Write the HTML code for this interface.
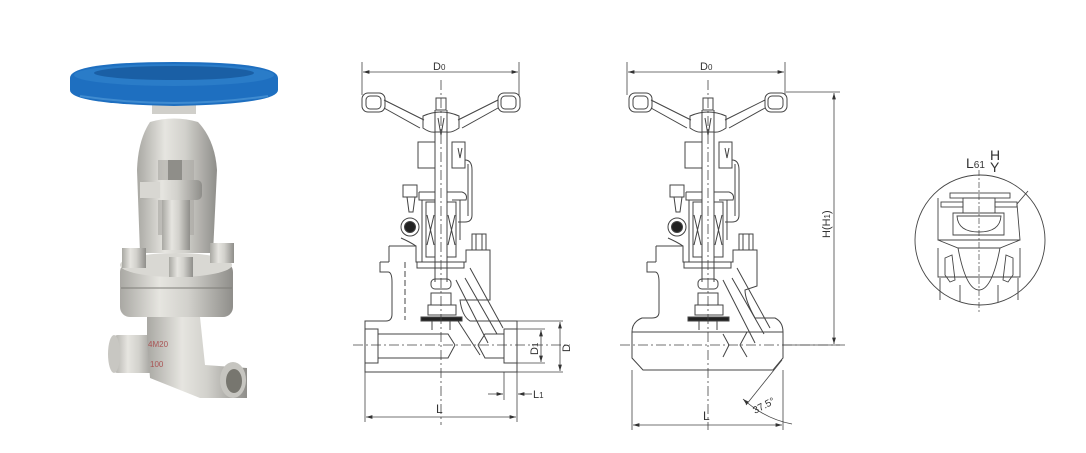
<!DOCTYPE html>
<html><head><meta charset="utf-8"><style>
html,body{margin:0;padding:0;background:#fff;}
svg{display:block;}
text{font-family:"Liberation Sans",sans-serif;fill:#333;}
</style></head><body>
<svg width="1086" height="453" viewBox="0 0 1086 453" xmlns="http://www.w3.org/2000/svg">
<defs>
<linearGradient id="steel" x1="0" x2="1" y1="0" y2="0">
<stop offset="0" stop-color="#a9a8a3"/><stop offset="0.35" stop-color="#e6e5e0"/><stop offset="0.6" stop-color="#d2d1cc"/><stop offset="1" stop-color="#8f8e8a"/>
</linearGradient>
<linearGradient id="steelv" x1="0" x2="0" y1="0" y2="1">
<stop offset="0" stop-color="#c9c8c3"/><stop offset="0.5" stop-color="#e8e7e2"/><stop offset="1" stop-color="#a8a7a2"/>
</linearGradient>
<marker id="ar" viewBox="0 0 10 6" refX="10" refY="3" markerWidth="8" markerHeight="5" orient="auto-start-reverse"><path d="M0,0 L10,3 L0,6 z" fill="#333"/></marker>
<g id="upper" fill="none" stroke="#444" stroke-width="1">
 <rect x="362" y="93" width="23" height="19" rx="6"/>
 <rect x="366" y="96" width="15" height="13" rx="4"/>
 <rect x="498" y="93" width="22" height="19" rx="6"/>
 <rect x="501" y="96" width="15" height="13" rx="4"/>
 <path d="M384,100 L424,120 M384,108 L420,128 M498,100 L458,120 M498,108 L462,128"/>
 <path d="M423,116 Q441,108 459,116 L459,128 Q452,133 447,132 L435,132 Q430,133 423,128 Z"/>
 <rect x="436" y="98" width="10" height="12"/>
 <path d="M435,110 L435,282 M447,110 L447,282"/>
 <path d="M438,118 L441,135 L444,118"/>
 <rect x="418" y="142" width="17" height="26"/>
 <rect x="452" y="142" width="13" height="26"/>
 <path d="M458,148 L460,158 L462,148"/>
 <path d="M465,160 Q472,160 472,170 L472,215 Q472,222 465,222 L458,222"/>
 <path d="M468,164 L468,216"/>
 <path d="M419,192 L435,192 M447,192 L462,192 Q468,194 466,200 L452,200 M419,192 L419,200 L435,200"/>
 <rect x="426" y="202" width="9" height="55"/>
 <rect x="447" y="202" width="9" height="55"/>
 <path d="M427,215 L434,245 M434,215 L427,245 M448,215 L455,245 M455,215 L448,245"/>
 <path d="M422,200 L422,262 M460,200 L460,240"/>
 <rect x="403" y="185" width="14" height="12"/>
 <path d="M407,197 L409,212 L413,212 L415,197"/>
 <circle cx="410" cy="227" r="9"/>
 <circle cx="410" cy="227" r="5.5" fill="#222"/>
 <path d="M401,238 Q410,242 416,246"/>
 <rect x="472" y="234" width="14" height="16"/>
 <path d="M476,234 L476,250 M482,234 L482,250"/>
 <path d="M389,246 L416,246 L416,262 L466,262 L466,250 L490,250 L490,270 M389,246 L389,262"/>
 <path d="M417,262 L417,268 L464,268 L464,262"/>
 <rect x="431" y="279" width="20" height="10" rx="4"/>
 <rect x="431" y="293" width="20" height="12"/>
 <rect x="428" y="305" width="28" height="10"/>
 <rect x="421" y="317" width="41" height="4" fill="#222"/>
</g>
</defs>

<!-- PHOTO -->
<g>
 <rect x="112" y="335" width="45" height="38" rx="6" fill="url(#steel)"/>
 <ellipse cx="114" cy="354" rx="6" ry="19" fill="#c8c7c2"/>
 <path d="M147,317 L200,317 L205,365 L247,368 L247,398 L200,398 L150,378 L147,340 Z" fill="url(#steel)"/>
 <ellipse cx="233" cy="380" rx="13" ry="18" fill="#c6c5c0"/>
 <ellipse cx="234" cy="381" rx="8" ry="12" fill="#77766f"/>
 <text x="148" y="347" font-size="8" style="fill:#a55">4M20</text>
 <text x="150" y="367" font-size="8" style="fill:#a55">100</text>
 <rect x="120" y="262" width="113" height="55" rx="10" fill="url(#steel)"/>
 <line x1="121" y1="288" x2="232" y2="288" stroke="#7e7d78"/>
 <ellipse cx="176" cy="265" rx="56" ry="12" fill="#d9d8d3"/>
 <path d="M150,122 Q174,115 198,122 Q215,140 217,170 L213,253 L140,253 L137,170 Q138,140 150,122 Z" fill="url(#steel)"/>
 <rect x="158" y="160" width="36" height="75" fill="#a8a7a2" opacity="0.6"/>
 <rect x="168" y="160" width="14" height="28" fill="#8f8e89"/>
 <rect x="140" y="180" width="62" height="20" rx="5" fill="url(#steel)"/>
 <rect x="140" y="182" width="20" height="16" fill="#d8d7d2"/>
 <rect x="162" y="200" width="28" height="50" fill="url(#steel)"/>
 <rect x="122" y="248" width="24" height="20" fill="url(#steel)"/>
 <rect x="169" y="257" width="24" height="20" fill="url(#steel)"/>
 <rect x="210" y="243" width="24" height="20" fill="url(#steel)"/>
 <rect x="152" y="104" width="44" height="10" fill="#d0cfca"/>
 <path d="M70,78 Q70,62 174,62 Q278,62 278,78 L278,90 Q278,104 174,106 Q70,104 70,90 Z" fill="#1e6fc0"/>
 <ellipse cx="174" cy="75" rx="100" ry="11" fill="#2a7cc8"/>
 <ellipse cx="174" cy="73" rx="80" ry="7" fill="#1a5fa5"/>
 <path d="M80,96 Q174,110 268,96" stroke="#3f8bd0" stroke-width="2" fill="none"/>
</g>

<!-- DRAWING 1 -->
<use href="#upper"/>
<g fill="none" stroke="#444" stroke-width="1">
 <path d="M380,262 L380,272 L388,272 Q392,272 392,282 L392,314 Q392,321 386,321 L365,321 L365,372 L517,372 L517,321 L470,321 Q462,316 460,300 L490,300 L490,270"/>
 <path d="M380,262 L389,262"/>
 <rect x="365" y="329" width="13" height="34"/>
 <rect x="504" y="329" width="13" height="34"/>
 <path d="M378,334 L448,334 L455,345 L448,358 L378,358"/>
 <path d="M504,334 L485,334 L478,345 L485,358 L504,358"/>
 <path d="M456,280 L488,343 M465,278 L497,334 M470,268 L503,328"/>
 <path d="M458,321 L480,355"/>
 <path d="M432,321 L432,330 M450,321 L450,330"/>
 <path d="M405,262 L405,320" stroke-dasharray="6,3"/>
</g>
<g stroke="#444" stroke-width="0.8" fill="none">
 <path d="M441,80 L441,425" stroke-dasharray="10,3,2,3"/>
 <path d="M353,345 L570,345" stroke-dasharray="10,3,2,3"/>
 <path d="M362,62 L362,95 M519,62 L519,95"/>
 <path d="M363,72 L518,72" marker-start="url(#ar)" marker-end="url(#ar)"/>
 <path d="M517,321 L563,321 M517,372 L563,372 M504,329 L545,329 M504,363 L545,363"/>
 <path d="M541,330 L541,362" marker-start="url(#ar)" marker-end="url(#ar)"/>
 <path d="M560,322 L560,371" marker-start="url(#ar)" marker-end="url(#ar)"/>
 <path d="M365,372 L365,422 M517,372 L517,422 M504,372 L504,400"/>
 <path d="M488,394 L503,394" marker-end="url(#ar)"/>
 <path d="M532,394 L518,394" marker-end="url(#ar)"/>
 <path d="M366,417 L516,417" marker-start="url(#ar)" marker-end="url(#ar)"/>
</g>
<text x="433" y="70" font-size="11">D<tspan font-size="8">0</tspan></text>
<text x="436" y="413" font-size="12">L</text>
<text x="533" y="398" font-size="11">L<tspan font-size="8">1</tspan></text>
<text transform="translate(538,355) rotate(-90)" font-size="11">D<tspan font-size="8">1</tspan></text>
<text transform="translate(570,352) rotate(-90)" font-size="11">D</text>

<!-- DRAWING 2 -->
<use href="#upper" transform="translate(267,0)"/>
<g fill="none" stroke="#444" stroke-width="1">
 <path d="M647,262 L647,272 L655,272 Q659,272 659,282 L659,312 Q659,318 652,318 L642,318 Q632,322 632,332 L632,358 L643,370 L773,370 L783,358 L783,332 Q783,322 775,318 L755,318 Q745,300 745,290 L757,286 L757,270"/>
 <path d="M647,262 L656,262"/>
 <path d="M632,332 L783,332"/>
 <path d="M723,334 L729,345 L723,357 M747,332 L740,345 L747,357"/>
 <path d="M723,280 L755,343 M732,278 L764,334 M737,268 L770,328"/>
 <path d="M699,321 L699,330 M717,321 L717,330"/>
</g>
<g stroke="#444" stroke-width="0.8" fill="none">
 <path d="M708,80 L708,430" stroke-dasharray="10,3,2,3"/>
 <path d="M620,345 L845,345" stroke-dasharray="10,3,2,3"/>
 <path d="M627,62 L627,95 M785,62 L785,95"/>
 <path d="M628,72 L784,72" marker-start="url(#ar)" marker-end="url(#ar)"/>
 <path d="M786,92 L840,92 M783,345 L840,345"/>
 <path d="M834,93 L834,344" marker-start="url(#ar)" marker-end="url(#ar)"/>
 <path d="M632,370 L632,430 M783,370 L783,430"/>
 <path d="M633,425 L782,425" marker-start="url(#ar)" marker-end="url(#ar)"/>
 <path d="M782,360 L746,405"/>
 <path d="M743,399 Q765,419 792,424" marker-start="url(#ar)"/>
</g>
<text x="700" y="70" font-size="11">D<tspan font-size="8">0</tspan></text>
<text x="703" y="420" font-size="12">L</text>
<text transform="translate(830,238) rotate(-90)" font-size="11">H(H<tspan font-size="8">1</tspan>)</text>
<text transform="translate(755,414) rotate(-28)" font-size="10">37.5°</text>

<!-- DETAIL -->
<g fill="none" stroke="#444" stroke-width="0.9">
 <circle cx="980" cy="240" r="65"/>
 <path d="M979,170 L979,312" stroke-dasharray="6,2,2,2" stroke-width="0.7"/>
 <rect x="950" y="193" width="60" height="5"/>
 <rect x="941" y="202" width="22" height="5"/>
 <rect x="995" y="202" width="22" height="5"/>
 <rect x="963" y="198" width="32" height="15"/>
 <path d="M953,213 L1004,213 L1004,235 L953,235 Z"/>
 <path d="M957,216 L1001,216 Q1000,232 979,232 Q958,232 957,216 Z"/>
 <path d="M938,198 L938,240 L1020,240 L1017,204 L1028,191"/>
 <path d="M938,240 L958,248 L1000,248 L1020,240"/>
 <path d="M938,248 L938,277 L1020,277 L1020,248"/>
 <path d="M958,248 Q966,290 979,290 Q992,290 1000,248"/>
 <path d="M945,258 L952,255 L955,280 L950,282 L945,275 Z"/>
 <path d="M1013,258 L1006,255 L1003,280 L1008,282 L1013,275 Z"/>
 <path d="M940,278 L940,300 M1018,278 L1018,300 M960,285 L960,302 M998,285 L998,302"/>
</g>
<text x="966" y="168" font-size="14">L<tspan font-size="10">61</tspan></text>
<text x="990" y="160" font-size="14">H</text>
<text x="990" y="172" font-size="14">Y</text>
</svg>
</body></html>
